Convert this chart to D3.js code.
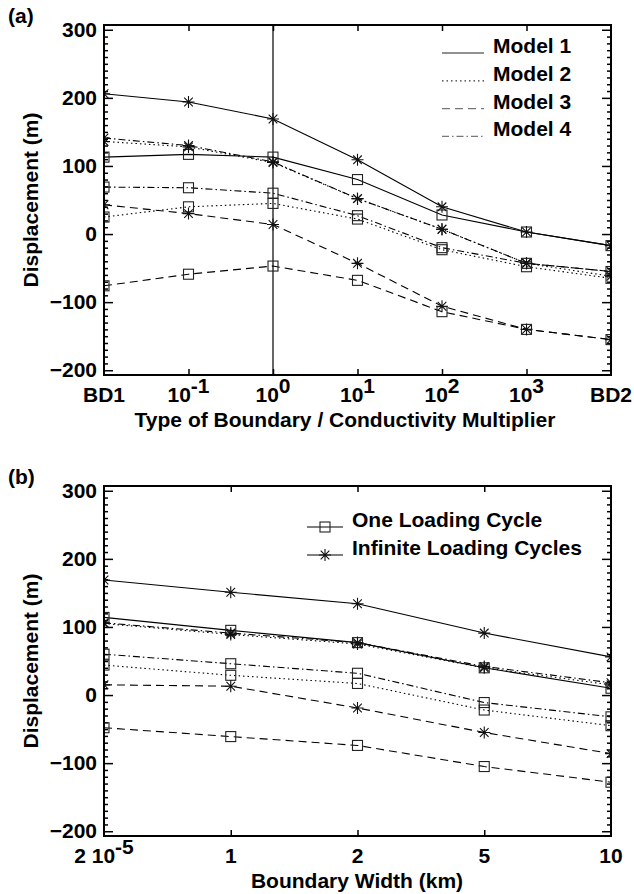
<!DOCTYPE html>
<html>
<head>
<meta charset="utf-8">
<script src="https://cdn.jsdelivr.net/npm/d3@7"></script>
<style>
  body { margin: 0; background: #fff; }
  svg text { font-family: "Liberation Sans", Arial, Helvetica, sans-serif; font-weight: bold; fill: #000; }
</style>
</head>
<body>
<svg id="chart" width="634" height="894"></svg>
<script>
// (a) type of boundary / conductivity multiplier
const catsA = ["BD1", "10^-1", "10^0", "10^1", "10^2", "10^3", "BD2"];
const m1OneA = [113, 117, 113, 80, 28, 3, -17];
const m1InfA = [206, 194, 169, 109, 40, 3, -17];
const m2OneA = [25, 40, 45, 22, -23, -48, -65];
const m2InfA = [136, 128, 105, 52, 7, -43, -62];
const m3OneA = [-76, -59, -47, -68, -114, -140, -155];
const m3InfA = [43, 30, 14, -43, -106, -140, -155];
const m4OneA = [69, 68, 60, 27, -20, -43, -55];
const m4InfA = [141, 130, 106, 52, 7, -43, -55];

// (b) boundary width
const catsB = ["2 10^-5", "1", "2", "5", "10"];
const m1OneB = [114, 95, 77, 40, 10];
const m1InfB = [169, 151, 134, 91, 56];
const m2OneB = [44, 29, 17, -22, -45];
const m2InfB = [105, 89, 75, 40, 15];
const m3OneB = [-48, -61, -74, -105, -128];
const m3InfB = [15, 13, -19, -55, -86];
const m4OneB = [60, 46, 32, -11, -32];
const m4InfB = [106, 91, 77, 42, 18];

const yTicks = [-200, -100, 0, 100, 200, 300];
const modelNames = ["Model 1", "Model 2", "Model 3", "Model 4"];
const cycleNames = ["One Loading Cycle", "Infinite Loading Cycles"];

// line styles per model
const dashes = [null, "1.5,3", "8,5", "7,3,1.5,3"];
const fs = 21;

const svg = d3.select("#chart");

// asterisk: + and x overlaid
function asterisk(r) {
  const d = r * 0.72;
  return `M0,${-r}L0,${r}M${-r},0L${r},0M${-d},${-d}L${d},${d}M${-d},${d}L${d},${-d}`;
}

function tickLabel(sel, s) {
  const parts = s.split("^");
  sel.append("tspan").text(parts[0]);
  if (parts[1]) sel.append("tspan").attr("dy", -9).text(parts[1]);
}

function drawPanel(top, cats, series, letter, xTitle, xTitleX, idx) {
  const left = 104, right = 611, h = 350;
  const x = d3.scalePoint().domain(cats).range([left, right]);
  const y = d3.scaleLinear().domain([-207, 307]).range([top + h, top]);
  const g = svg.append("g");

  g.append("clipPath").attr("id", "clip" + idx)
    .append("rect").attr("x", left).attr("y", top).attr("width", right - left).attr("height", h);

  // minor ticks
  const minor = d3.range(-200, 301, 10).filter(v => v % 100 !== 0);
  g.append("g").attr("transform", `translate(${left},0)`)
    .call(d3.axisLeft(y).tickValues(minor).tickSize(-4).tickFormat(""))
    .call(a => a.select(".domain").remove());
  g.append("g").attr("transform", `translate(${right},0)`)
    .call(d3.axisRight(y).tickValues(minor).tickSize(-4).tickFormat(""))
    .call(a => a.select(".domain").remove());
  // major ticks
  g.append("g").attr("transform", `translate(${left},0)`)
    .call(d3.axisLeft(y).tickValues(yTicks).tickSize(-9).tickPadding(7).tickFormat(d3.format("d")))
    .call(a => a.select(".domain").remove())
    .call(a => a.selectAll("text").attr("font-size", fs).attr("fill", "#000")
      .style("font-family", "Liberation Sans, Arial, sans-serif").style("font-weight", "bold"));
  g.append("g").attr("transform", `translate(${right},0)`)
    .call(d3.axisRight(y).tickValues(yTicks).tickSize(-9).tickFormat(""))
    .call(a => a.select(".domain").remove());
  const inner = cats.slice(1, -1);
  g.append("g").attr("transform", `translate(0,${top})`)
    .call(d3.axisTop(x).tickValues(inner).tickSize(-6).tickFormat(""))
    .call(a => a.select(".domain").remove());
  g.append("g").attr("transform", `translate(0,${top + h})`)
    .call(d3.axisBottom(x).tickValues(inner).tickSize(-6).tickFormat(""))
    .call(a => a.select(".domain").remove());
  g.selectAll(".tick line").attr("stroke", "#000").attr("stroke-width", 1.5);

  // x tick labels
  cats.forEach(c => {
    const t = g.append("text").attr("x", x(c)).attr("y", top + h + 27)
      .attr("text-anchor", "middle").attr("font-size", fs);
    tickLabel(t, c);
  });

  const plot = g.append("g").attr("clip-path", `url(#clip${idx})`);
  if (idx === 0) {
    plot.append("line").attr("x1", x("10^0")).attr("x2", x("10^0"))
      .attr("y1", top).attr("y2", top + h).attr("stroke", "#000").attr("stroke-width", 1.2);
  }
  const line = d3.line().x((d, i) => x(cats[i])).y(d => y(d));
  series.forEach(s => {
    plot.append("path").attr("d", line(s.values)).attr("fill", "none")
      .attr("stroke", "#000").attr("stroke-width", 1.1)
      .attr("stroke-dasharray", dashes[s.model]);
  });
  series.forEach(s => {
    s.values.forEach((v, i) => {
      const px = x(cats[i]), py = y(v);
      if (s.one) {
        plot.append("rect").attr("x", px - 5).attr("y", py - 5).attr("width", 10).attr("height", 10)
          .attr("fill", "none").attr("stroke", "#222").attr("stroke-width", 1.1);
      } else {
        plot.append("path").attr("d", asterisk(6)).attr("transform", `translate(${px},${py})`)
          .attr("fill", "none").attr("stroke", "#111").attr("stroke-width", 1.1);
      }
    });
  });

  // frame
  g.append("rect").attr("x", left).attr("y", top).attr("width", right - left).attr("height", h)
    .attr("fill", "none").attr("stroke", "#000").attr("stroke-width", 2);

  // titles
  g.append("text").attr("transform", `translate(38,${top + h / 2}) rotate(-90)`)
    .attr("text-anchor", "middle").attr("font-size", fs).text("Displacement (m)");
  g.append("text").attr("x", xTitleX).attr("y", top + h + 52)
    .attr("text-anchor", "middle").attr("font-size", fs).text(xTitle);
  g.append("text").attr("x", 8).attr("y", top - 2).attr("font-size", fs).text(letter);
  return { x, y, top };
}

const seriesA = [
  { model: 0, one: true, values: m1OneA }, { model: 0, one: false, values: m1InfA },
  { model: 1, one: true, values: m2OneA }, { model: 1, one: false, values: m2InfA },
  { model: 2, one: true, values: m3OneA }, { model: 2, one: false, values: m3InfA },
  { model: 3, one: true, values: m4OneA }, { model: 3, one: false, values: m4InfA }
];
const seriesB = [
  { model: 0, one: true, values: m1OneB }, { model: 0, one: false, values: m1InfB },
  { model: 1, one: true, values: m2OneB }, { model: 1, one: false, values: m2InfB },
  { model: 2, one: true, values: m3OneB }, { model: 2, one: false, values: m3InfB },
  { model: 3, one: true, values: m4OneB }, { model: 3, one: false, values: m4InfB }
];

drawPanel(25, catsA, seriesA, "(a)", "Type of Boundary / Conductivity Multiplier", 345, 0);
drawPanel(486, catsB, seriesB, "(b)", "Boundary Width (km)", 357, 1);

// legend (a): models
const legA = svg.append("g");
const legColors = ["#222", "#333", "#777", "#777"];
modelNames.forEach((n, i) => {
  const yy = 53 + i * 27.8;
  legA.append("line").attr("x1", 442).attr("x2", 484).attr("y1", yy).attr("y2", yy)
    .attr("stroke", legColors[i]).attr("stroke-width", 1.2).attr("stroke-dasharray", dashes[i]);
  legA.append("text").attr("x", 493).attr("y", yy).attr("font-size", fs).text(n);
});

// legend (b): loading cycles
const legB = svg.append("g");
cycleNames.forEach((n, i) => {
  const yy = 527 + i * 28;
  legB.append("line").attr("x1", 307).attr("x2", 343).attr("y1", yy).attr("y2", yy)
    .attr("stroke", "#000").attr("stroke-width", 1.1);
  if (i === 0) {
    legB.append("rect").attr("x", 320).attr("y", yy - 5).attr("width", 10).attr("height", 10)
      .attr("fill", "none").attr("stroke", "#222").attr("stroke-width", 1.1);
  } else {
    legB.append("path").attr("d", asterisk(6)).attr("transform", `translate(325,${yy})`)
      .attr("fill", "none").attr("stroke", "#111").attr("stroke-width", 1.1);
  }
  legB.append("text").attr("x", 352).attr("y", yy).attr("font-size", fs).text(n);
});
</script>
</body>
</html>
